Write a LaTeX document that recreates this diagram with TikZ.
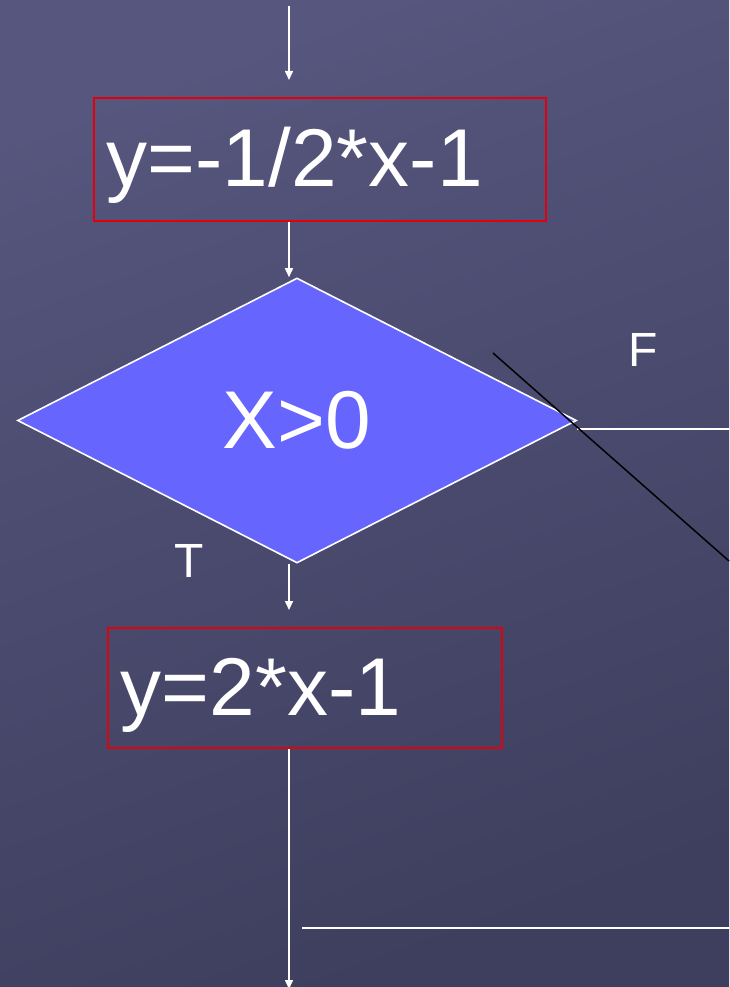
\documentclass[tikz,border=0pt]{standalone}
\usepackage{fontspec}
\setmainfont{Liberation Sans}
\usetikzlibrary{arrows.meta,positioning,shapes.geometric}
\definecolor{bgtop}{RGB}{86,86,126}
\definecolor{bgbot}{RGB}{62,62,94}
\definecolor{boxred}{RGB}{228,0,10}
\definecolor{diafill}{RGB}{102,102,255}
\newcommand\bigtxt{\fontsize{82}{82}\selectfont}
\newcommand\lbltxt{\fontsize{48}{48}\selectfont}

\begin{document}
\begin{tikzpicture}[x=1pt,y=-1pt,box/.style={draw=boxred,line width=1.6pt,inner xsep=13pt,inner ysep=0pt,align=left,text=white,font=\bigtxt,anchor=north west},dia/.style={diamond,draw=white,fill=diafill,line width=1.6pt,inner sep=0pt,minimum width=559pt,minimum height=285pt,text=white,font=\bigtxt},arr/.style={-{Triangle[width=8pt,length=9pt]},draw=white,line width=1.5pt},ln/.style={draw=white,line width=1.6pt},lbl/.style={text=white,font=\lbltxt,inner sep=0pt}]

\useasboundingbox (0,0) rectangle (729,987);
\shade[top color=bgtop,bottom color=bgbot,shading angle=20] (0,0) rectangle (729,987);

\node[box,text width=426pt,text height=89pt,text depth=34pt] (b1) at(93,97) {y=-1/2*x-1};
\node[dia] (cond) at(297,420.5) {X>0};
\node[box,text width=368pt,text height=88pt,text depth=32pt] (b2) at(107,627) {y=2*x-1};
\node[lbl] (lf) at(643,350) {F};
\node[lbl] (lt) at(189,561) {T};

\coordinate (in) at(289,6);
\coordinate (out) at(289,989);
\coordinate (fend) at(729,429);
\coordinate (jl) at(302,928);\coordinate (jr) at(729,928);
\coordinate (s1) at(493,353);\coordinate (s2) at(729,561);

\draw[arr,shorten >=17pt] (in)--(in |- b1.north);
\draw[arr] (b1.south -| in)--(cond.north -| in);
\draw[arr,shorten >=17pt] (cond.south -| in)--(b2.north -| in);
\draw[arr] (b2.south -| in)--(out);
\draw[ln] (cond.east |- fend)--(fend);
\draw[ln] (jl)--(jr);
\draw[black,line width=1.5pt] (s1)--(s2);
\end{tikzpicture}
\end{document}
